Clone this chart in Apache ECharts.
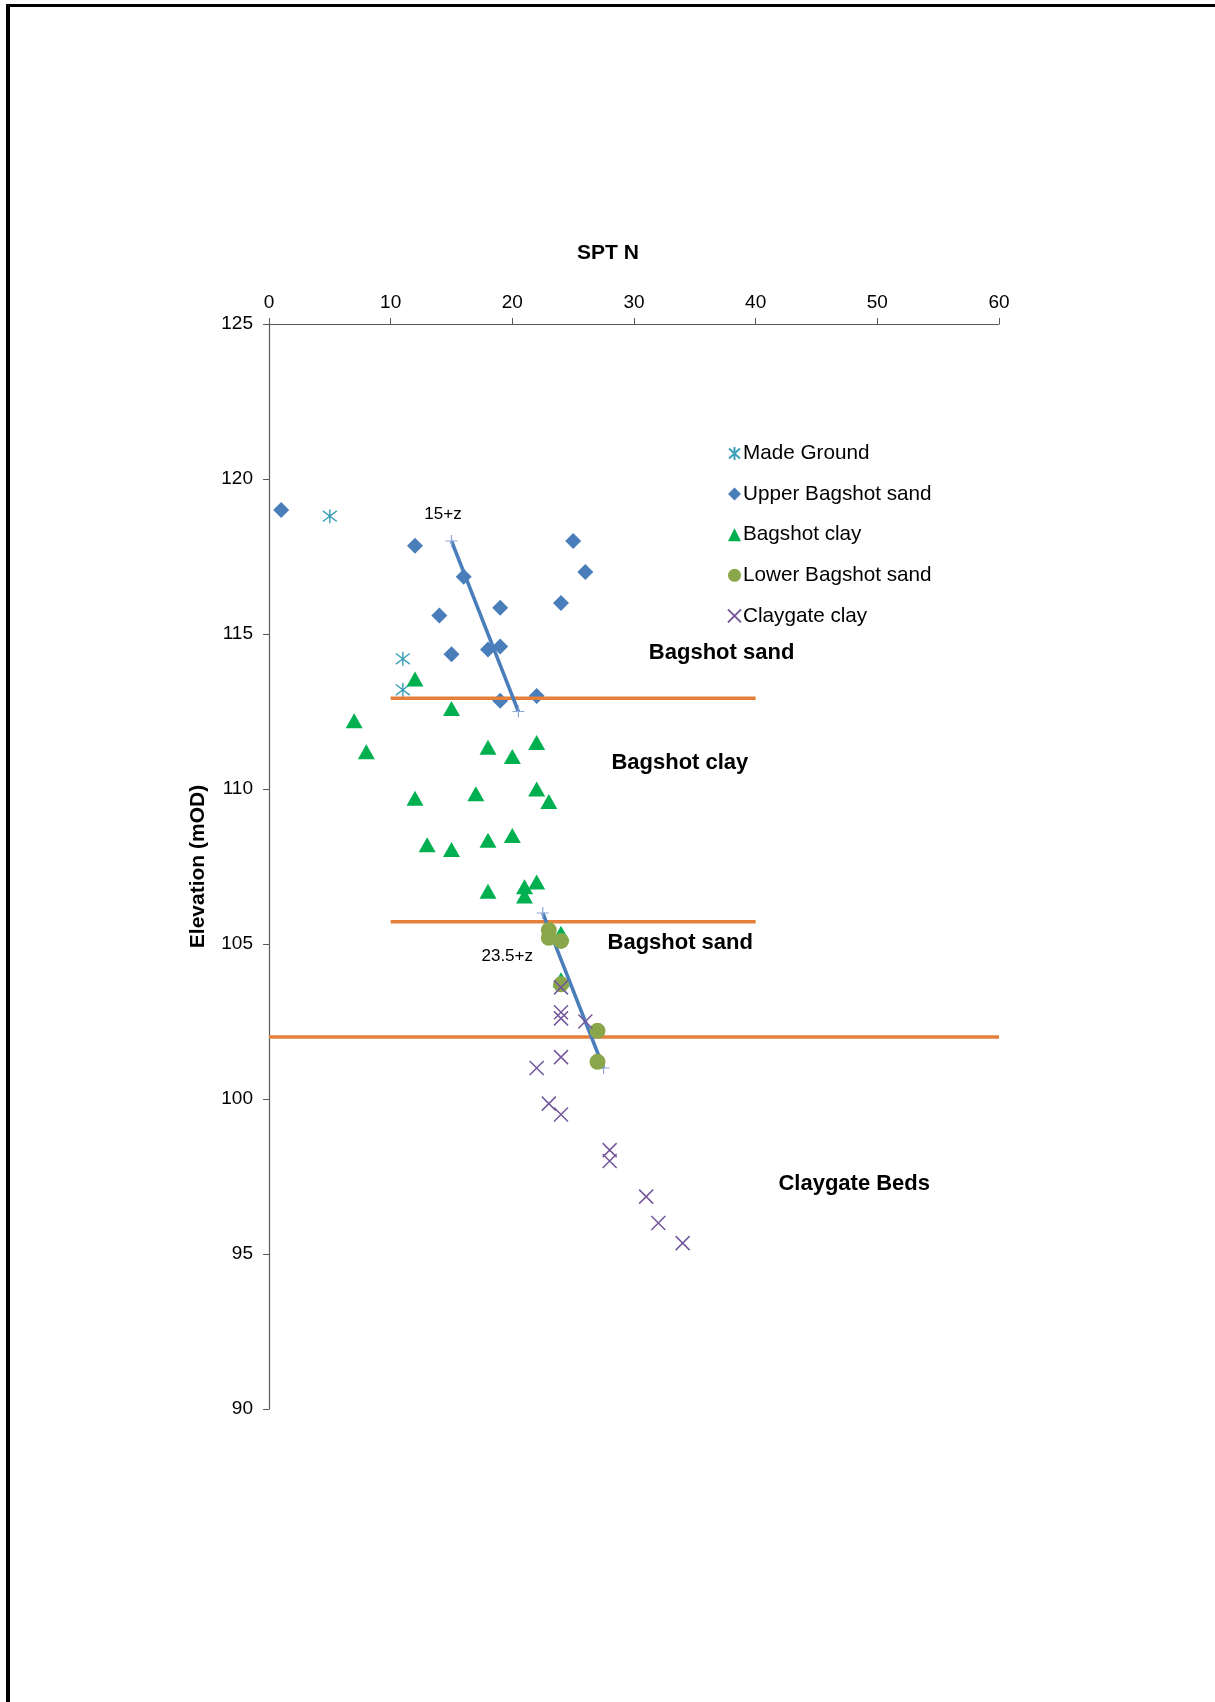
<!DOCTYPE html>
<html>
<head>
<meta charset="utf-8">
<script src="https://cdn.jsdelivr.net/npm/echarts@6/dist/echarts.min.js"></script>
<style>
  html, body { margin: 0; padding: 0; background: #fff; }
  #chart { position: absolute; left: 0; top: 0; width: 1215px; height: 1702px; }
  .frameTop { position: absolute; left: 6px; top: 4px; width: 1209px; height: 3px; background: #000; z-index: 5; }
  .frameLeft { position: absolute; left: 6px; top: 4px; width: 4px; height: 1698px; background: #000; z-index: 5; }
</style>
</head>
<body>
<div id="chart"></div>
<div class="frameTop"></div>
<div class="frameLeft"></div>
<script>
// ---- data (SPT N, elevation mOD) ----
const madeGround = [[5,118.8],[11,114.2],[11,113.2]];
const upperBagshotSand = [[1,119],[12,117.85],[25,118],[26,117],[16,116.85],[19,115.85],[24,116],[14,115.6],[15,114.35],[18,114.5],[19,114.6],[19,112.85],[22,113]];
const bagshotClay = [[12,113.55],[7,112.2],[15,112.6],[8,111.2],[18,111.35],[20,111.05],[22,111.5],[12,109.7],[17,109.85],[22,110],[23,109.6],[13,108.2],[15,108.05],[18,108.35],[20,108.5],[18,106.7],[21,106.85],[22,107],[21,106.55],[24,105.35],[24,103.85]];
const lowerBagshotSand = [[23,105.45],[23,105.2],[24,105.1],[24,103.7],[27,102.2],[27,101.2]];
const claygateClay = [[24,103.6],[24,102.8],[24,102.6],[26,102.5],[24,101.35],[22,101],[23,99.85],[24,99.5],[28,98.35],[28,98],[31,96.85],[32,96],[34,95.35]];
const trendUpper = [[15,118],[20.5,112.5]];
const trendLower = [[22.5,106],[27.5,101]];
const boundaryUpper = [[10,112.93],[40,112.93]];
const boundaryMiddle = [[10,105.72],[40,105.72]];
const boundaryLower = [[0,102],[60,102]];
const stratumLabels = [[37.2,114.4,'Bagshot sand'],[33.77,110.83,'Bagshot clay'],[33.8,105.05,'Bagshot sand'],[48.1,97.25,'Claygate Beds']];
const trendLabels = [[14.3,118.85,'15+z'],[19.58,104.61,'23.5+z']];
const xRange = [0, 60, 10];
const yRange = [90, 125, 5];

const FONT = '"Liberation Sans", Arial, sans-serif';
const asteriskPath = 'path://M5,0L5,10M0.8,1.2L9.2,8.8M9.2,1.2L0.8,8.8';
const crossPath = 'path://M0,0L10,10M10,0L0,10';
const plusPath = 'path://M5,0L5,10M0,5L10,5';

function boundary(data) {
  return { type: 'line', data: data, symbol: 'none', silent: true, z: 3,
    lineStyle: { color: '#e5803a', width: 3.5 } };
}
function trend(data) {
  return { type: 'line', data: data, symbol: plusPath, symbolSize: 12, z: 3, silent: true,
    itemStyle: { color: 'transparent', borderColor: '#8ba6d8', borderWidth: 1.2 },
    lineStyle: { color: '#4a7ebb', width: 3.5 } };
}
function textSeries(data, size, weight) {
  return { type: 'scatter', data: data, symbolSize: 1, silent: true, z: 7,
    itemStyle: { color: 'transparent' },
    label: { show: true, position: 'inside', formatter: p => p.data[2],
      fontFamily: FONT, fontSize: size, fontWeight: weight, color: '#000',
      textBorderWidth: 0, opacity: 1 } };
}

const chart = echarts.init(document.getElementById('chart'), null, { renderer: 'canvas' });
chart.setOption({
  animation: false,
  backgroundColor: '#ffffff',
  grid: { left: 269, top: 324, width: 730, height: 1085, containLabel: false },
  xAxis: {
    type: 'value', position: 'top', min: xRange[0], max: xRange[1], interval: xRange[2],
    name: 'SPT N', nameLocation: 'middle', nameGap: 60,
    nameTextStyle: { fontFamily: FONT, fontSize: 21, fontWeight: 'bold', color: '#000', padding: [0, 52, 0, 0] },
    axisLine: { show: true, lineStyle: { color: '#595959', width: 1.2 } },
    axisTick: { show: true, length: 6, lineStyle: { color: '#595959' } },
    axisLabel: { fontFamily: FONT, fontSize: 19, color: '#000', margin: 12 },
    splitLine: { show: false }
  },
  yAxis: {
    type: 'value', min: yRange[0], max: yRange[1], interval: yRange[2],
    name: 'Elevation (mOD)', nameLocation: 'middle', nameGap: 60, nameRotate: 90,
    nameTextStyle: { fontFamily: FONT, fontSize: 21, fontWeight: 'bold', color: '#000' },
    axisLine: { show: true, lineStyle: { color: '#595959', width: 1.2 } },
    axisTick: { show: true, length: 6, lineStyle: { color: '#595959' } },
    axisLabel: { fontFamily: FONT, fontSize: 19, color: '#000', margin: 16 },
    splitLine: { show: false }
  },
  legend: {
    orient: 'vertical', left: 722, top: 438,
    data: ['Made Ground', 'Upper Bagshot sand', 'Bagshot clay', 'Lower Bagshot sand', 'Claygate clay'],
    itemWidth: 13, itemHeight: 13, itemGap: 19.6,
    textStyle: { fontFamily: FONT, fontSize: 20.7, color: '#000', lineHeight: 20, padding: [0, 0, 0, -3] }
  },
  series: [
    { name: 'Made Ground', type: 'scatter', data: madeGround, symbol: asteriskPath, symbolSize: 14, z: 2,
      itemStyle: { color: 'transparent', borderColor: '#3b9fb8', borderWidth: 1.4, opacity: 1 } },
    { name: 'Upper Bagshot sand', type: 'scatter', data: upperBagshotSand, symbol: 'diamond', symbolSize: 16, z: 2,
      itemStyle: { color: '#4a7ebb', opacity: 1 } },
    boundary(boundaryUpper),
    boundary(boundaryMiddle),
    boundary(boundaryLower),
    trend(trendUpper),
    trend(trendLower),
    { name: 'Bagshot clay', type: 'scatter', data: bagshotClay, symbol: 'triangle', symbolSize: [17, 15], z: 4,
      itemStyle: { color: '#00b050', opacity: 1 } },
    { name: 'Lower Bagshot sand', type: 'scatter', data: lowerBagshotSand, symbol: 'circle', symbolSize: 16, z: 5,
      itemStyle: { color: '#8aa64a', opacity: 1 } },
    { name: 'Claygate clay', type: 'scatter', data: claygateClay, symbol: crossPath, symbolSize: 14, z: 6,
      itemStyle: { color: 'transparent', borderColor: '#74579c', borderWidth: 1.5, opacity: 1 } },
    textSeries(stratumLabels, 22, 'bold'),
    textSeries(trendLabels, 17, 'normal')
  ]
});
</script>
</body>
</html>
